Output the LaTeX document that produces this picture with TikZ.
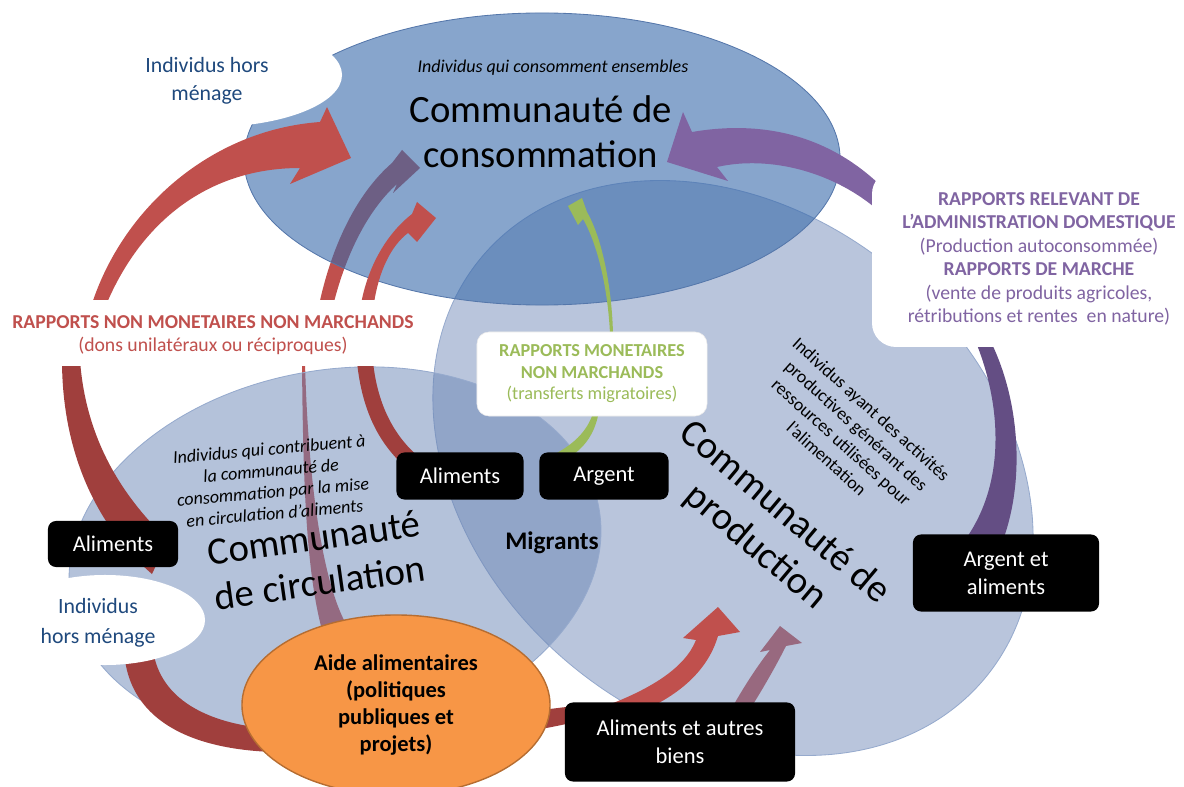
\documentclass[tikz,border=0pt]{standalone}
\usepackage{fontspec}
\setmainfont{Carlito}
\usetikzlibrary{positioning, shapes.geometric}
\definecolor{consoblue}{RGB}{55,105,170}
\definecolor{prodblue}{RGB}{109,134,182}
\definecolor{circblue}{RGB}{105,133,181}
\definecolor{consoedge}{RGB}{85,119,170}
\definecolor{prodedge}{RGB}{150,170,205}
\definecolor{redarrow}{RGB}{192,80,77}
\definecolor{darkred}{RGB}{160,63,61}
\definecolor{purplearrow}{RGB}{128,100,162}
\definecolor{darkpurple}{RGB}{100,78,132}
\definecolor{greenarrow}{RGB}{155,187,89}
\definecolor{bluetext}{RGB}{31,73,125}
\definecolor{aidorange}{RGB}{247,150,70}
\definecolor{aidedge}{RGB}{182,109,49}
\tikzstyle{blackbox} = [rectangle, rounded corners=0.2cm, fill=black, text=white, align=center, inner sep=0pt, font=\fontsize{16}{20}\selectfont]
\tikzstyle{community} = [align=center, font=\fontsize{27.5}{32}\selectfont]
\tikzstyle{description} = [align=center, font=\fontsize{12.8}{15.3}\selectfont\itshape]
\tikzstyle{relation} = [align=center, font=\fontsize{14}{16.7}\selectfont]
\tikzstyle{outsider} = [align=center, text=bluetext, font=\fontsize{15.5}{19.5}\selectfont]
\tikzstyle{redflow} = [fill=redarrow]
\tikzstyle{darkflow} = [fill=darkred]
\tikzstyle{purpleflow} = [fill=purplearrow]
\tikzstyle{darkpurpleflow} = [fill=darkpurple]
\tikzstyle{greenflow} = [fill=greenarrow]

\begin{document}
\begin{tikzpicture}[x=0.025cm, y=-0.025cm]
\useasboundingbox (0,0) rectangle (1184,787);
\clip (0,0) rectangle (1184,787);

% flows seen through the communities
\fill[redflow] (318,310) .. controls (330,250) and (355,195) .. (392,163) -- (402,150) -- (420,168) -- (393,193) -- (397,184) .. controls (368,210) and (345,255) .. (332,310) -- cycle;
\fill[redflow] (302,362) .. controls (303,480) and (306,570) .. (322,630) -- (346,624) .. controls (322,580) and (308,480) .. (305,362) -- cycle;
\fill[redflow] (733,706) .. controls (745,685) and (758,665) .. (770,650) -- (760,652) -- (780,626) -- (802,643) -- (786,646) .. controls (775,668) and (762,690) .. (752,706) -- cycle;

% communities
\filldraw[fill=prodblue, fill opacity=0.48, draw=prodedge, line width=0.6pt, rotate around={-40:(733,468)}] (733,468) ellipse [x radius=8.2cm, y radius=6.375cm];
\filldraw[fill=circblue, fill opacity=0.5, draw=prodedge, line width=0.6pt, rotate around={10:(335,555)}] (335,555) ellipse [x radius=6.7cm, y radius=4.625cm];
\filldraw[fill=consoblue, fill opacity=0.6, draw=consoedge, line width=0.6pt] (542,159) ellipse [x radius=7.45cm, y radius=3.65cm];

% flows on top
\fill[redflow] (90,310) .. controls (120,210) and (210,130) .. (320,122) -- (327,107) -- (351,158) -- (290,184) -- (300,168) .. controls (210,168) and (140,220) .. (104,310) -- cycle;
\fill[redflow] (360,310) .. controls (366,270) and (385,235) .. (412,214) -- (417,202) -- (436,218) -- (417,242) -- (408,233) .. controls (392,245) and (378,270) .. (373,310) -- cycle;
\fill[darkflow] (62,360) .. controls (62,450) and (95,525) .. (152,574) -- (168,540) .. controls (115,490) and (85,430) .. (80,360) -- cycle;
\fill[darkflow] (357,362) .. controls (362,410) and (378,440) .. (400,462) -- (420,458) .. controls (396,438) and (378,408) .. (373,362) -- cycle;
\fill[darkflow] (124,650) .. controls (128,725) and (200,755) .. (300,752) .. controls (420,748) and (520,735) .. (575,722) -- (575,706) .. controls (520,712) and (420,728) .. (300,730) .. controls (210,730) and (160,700) .. (153,650) -- cycle;
\fill[redflow] (640,712) .. controls (680,695) and (708,670) .. (718,636) -- (740,632) -- (718,607) -- (683,638) -- (696,640) .. controls (685,668) and (650,690) .. (600,708) -- cycle;
\fill[purpleflow] (880,185) .. controls (820,128) and (750,122) .. (692,132) -- (683,112) -- (667,162) -- (728,181) -- (717,167) .. controls (770,155) and (835,172) .. (880,212) -- cycle;
\fill[darkpurpleflow] (975,340) .. controls (1000,400) and (1008,480) .. (965,540) -- (1003,540) .. controls (1025,480) and (1020,400) .. (990,340) -- cycle;
\fill[greenflow] (582,198) -- (568,206) -- (578,225) -- (583,219) .. controls (598,245) and (608,290) .. (610,334) -- (613,334) .. controls (612,290) and (603,240) .. (587,212) -- cycle;
\fill[greenflow] (594,410) .. controls (588,432) and (572,446) .. (549,457) -- (568,458) .. controls (585,448) and (596,432) .. (599,410) -- cycle;

% white backgrounds of the labels
\fill[white] (210,75) ellipse [x radius=3.3cm, y radius=1.3cm];
\fill[white] (105,620) ellipse [x radius=2.5cm, y radius=1.125cm];
\fill[white] (-5,300) rectangle (432,366);
\fill[white, rounded corners=0.6cm] (872,170) rectangle (1210,347);

\node (conso_desc) [description] at (553,68) {Individus qui consomment ensembles};
\node (conso) [community] at (541,132) {Communauté de\\consommation};
\node (circ_desc) [description, rotate=5] at (272,481) {Individus qui contribuent à\\la communauté de\\consommation par la mise\\en circulation d’aliments};
\node (circ) [community, rotate=8] at (317,560) {Communauté\\de circulation};
\node (prod_desc) [description, font=\fontsize{12.8}{15.8}\selectfont, rotate=-42] at (849,434) {Individus ayant des activités\\productives générant des\\ressources utilisées pour\\l’alimentation};
\node (prod) [community, rotate=-40] at (770,530) {Communauté de\\production};
\node (migrants) [font=\fontsize{18}{21}\selectfont\bfseries] at (552,543) {Migrants};

\node (outsider_top) [outsider] at (207,81) {Individus hors\\ménage};
\node (outsider_low) [outsider, font=\fontsize{15.5}{21}\selectfont] at (98,623) {Individus\\hors ménage};
\node (gifts) [relation, text=redarrow] at (213,335) {\textbf{RAPPORTS NON MONETAIRES NON MARCHANDS}\\(dons unilatéraux ou réciproques)};
\node (domestic) [relation, text=purplearrow] at (1039,259) {\textbf{RAPPORTS RELEVANT DE}\\\textbf{L’ADMINISTRATION DOMESTIQUE}\\(Production autoconsommée)\\\textbf{RAPPORTS DE MARCHE}\\(vente de produits agricoles,\\rétributions et rentes\ \ en nature)};
\node (transfers) [rectangle, rounded corners=0.3cm, fill=white, draw=black!8, minimum width=5.75cm, minimum height=2.1cm, align=center, text=greenarrow, font=\fontsize{13}{15.3}\selectfont] at (592,374) {\textbf{RAPPORTS MONETAIRES}\\\textbf{NON MARCHANDS}\\(transferts migratoires)};

\node (aliments_left) [blackbox, minimum width=3.25cm, minimum height=1.15cm] at (113,544) {Aliments};
\node (aliments_mid) [blackbox, minimum width=3.175cm, minimum height=1.175cm] at (460,476) {Aliments};
\node (argent) [blackbox, minimum width=3.225cm, minimum height=1.175cm] at (604,476) {Argent};
\node (argent_aliments) [blackbox, minimum width=4.65cm, minimum height=1.925cm] at (1006,573) {Argent et\\aliments};
\node (aliments_biens) [blackbox, minimum width=5.75cm, minimum height=1.975cm] at (680,742) {Aliments et autres\\biens};
\node (aide) [ellipse, fill=aidorange, draw=aidedge, line width=1pt, minimum width=7.7cm, minimum height=4.5cm, align=center, font=\fontsize{16}{19}\selectfont\bfseries] at (396,705) {Aide alimentaires\\(politiques\\publiques et\\projets)};

\end{tikzpicture}
\end{document}
